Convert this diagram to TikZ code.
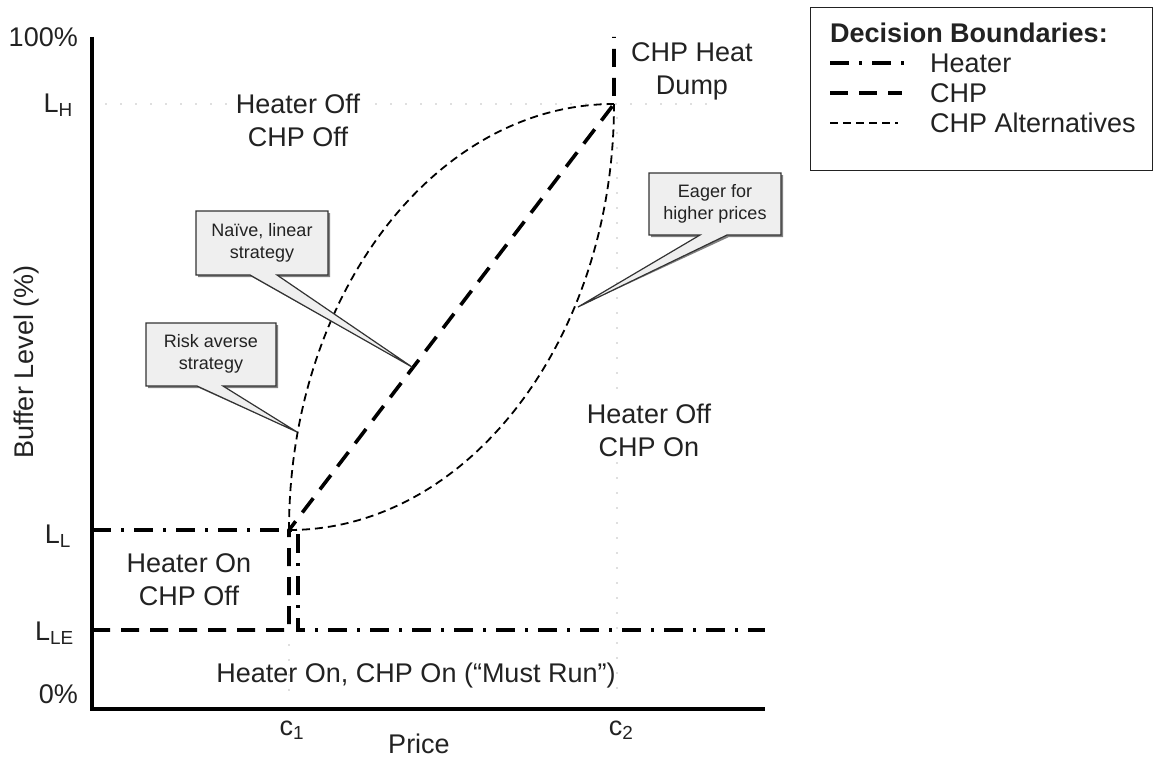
\documentclass[tikz,border=0pt]{standalone}
\usepackage{fontspec}
\setmainfont{Liberation Sans}
\definecolor{ink}{HTML}{222222}
\definecolor{calfill}{HTML}{EFEFEF}
\definecolor{caledge}{HTML}{333333}
\definecolor{guidegray}{HTML}{777777}
\begin{document}
\begin{tikzpicture}[x=1pt,y=-1pt,
  lab/.style={text=ink,font=\fontsize{27}{33}\selectfont,inner sep=0pt,align=center},
  whitelab/.style={lab,fill=white,inner xsep=6pt,inner ysep=2pt},
  leg/.style={text=ink,font=\fontsize{27}{30}\selectfont,inner sep=0pt,anchor=base west},
  caltext/.style={text=ink,font=\fontsize{18}{21.5}\selectfont,inner sep=0pt,align=center},
  axisline/.style={line width=4.5pt},
  heaterline/.style={line width=3.6pt,dash pattern=on 19pt off 10pt on 3pt off 10pt},
  chpline/.style={line width=3.6pt,dash pattern=on 18pt off 11pt},
  altline/.style={line width=1.8pt,dash pattern=on 8pt off 5pt},
  guide/.style={line width=1.4pt,guidegray,line cap=round,dash pattern=on 0pt off 15pt},
  calbox/.style={fill=calfill,draw=caledge,line width=1.2pt,line join=miter},
  calshadow/.style={fill=black!50,draw=none}
]
\useasboundingbox[fill=white] (0,0) rectangle (1155,760);

% key coordinates
\coordinate (ytop) at (92,37);
\coordinate (orig) at (92,709);
\coordinate (xend) at (765,709);
\coordinate (LLleft) at (92,530);
\coordinate (LLEleft) at (92,630);
\coordinate (c1L) at (289,530);
\coordinate (c1LE) at (289,630);
\coordinate (hL) at (298,530);
\coordinate (hLE) at (298,630);
\coordinate (LLEright) at (765,630);
\coordinate (hd) at (614,104);
\coordinate (hdtop) at (614,37);
\coordinate (gH1) at (106,104);
\coordinate (gH2) at (718,104);
\coordinate (gc2a) at (617,118);
\coordinate (gc2b) at (617,700);
\coordinate (gc1a) at (289,645);
\coordinate (gc1b) at (289,700);

% guides
\draw[guide] (gH1) -- (gH2);
\draw[guide] (gc2a) -- (gc2b);
\draw[guide] (gc1a) -- (gc1b);

% CHP alternatives
\draw[altline] (c1L) .. controls (289,295) and (435,104) .. (hd);
\draw[altline] (c1L) .. controls (468,530) and (614,339) .. (hd);

% CHP boundary
\draw[chpline] (LLEleft) -- (c1LE) -- (c1L) -- (hd) -- (hdtop);
% Heater boundary
\draw[heaterline] (LLleft) -- (hL) -- (hLE) -- (LLEright);

% axes
\draw[axisline] (ytop) -- (orig) -- (xend);

% callouts
\coordinate (tipN) at (412,367);
\coordinate (tipR) at (297,432);
\coordinate (tipE) at (578,307);
\begin{scope}[shift={(2,2)}]
\fill[calshadow] (196,211) -- (328,211) -- (328,275) -- (277,275) -- (tipN) -- (250,275) -- (196,275) -- cycle;
\fill[calshadow] (146,323) -- (276,323) -- (276,386) -- (223,386) -- (tipR) -- (197,386) -- (146,386) -- cycle;
\fill[calshadow] (649,173) -- (781,173) -- (781,235) -- (727,235) -- (tipE) -- (700,235) -- (649,235) -- cycle;
\end{scope}
\draw[calbox] (196,211) -- (328,211) -- (328,275) -- (277,275) -- (tipN) -- (250,275) -- (196,275) -- cycle;
\draw[calbox] (146,323) -- (276,323) -- (276,386) -- (223,386) -- (tipR) -- (197,386) -- (146,386) -- cycle;
\draw[calbox] (649,173) -- (781,173) -- (781,235) -- (727,235) -- (tipE) -- (700,235) -- (649,235) -- cycle;
\node[caltext] (naive) at (262,243) {Naïve, linear\\strategy};
\node[caltext] (risk) at (211,354) {Risk averse\\strategy};
\node[caltext] (eager) at (715,204) {Eager for\\higher prices};

% axis tick labels
\node[lab,anchor=base east] (t100) at (78,47) {100\%};
\node[lab,anchor=base east] (tLH) at (73,112) {L\textsubscript{H}};
\node[lab,anchor=base east] (tLL) at (71,543) {L\textsubscript{L}};
\node[lab,anchor=base east] (tLLE) at (74,640) {L\textsubscript{LE}};
\node[lab,anchor=base east] (t0) at (78,703) {0\%};
\node[lab,anchor=base] (tc1) at (292,735) {c\textsubscript{1}};
\node[lab,anchor=base] (tc2) at (621,735) {c\textsubscript{2}};
\node[lab,anchor=base] (price) at (419,753) {Price};
\node[lab,anchor=base,rotate=90] (ylab) at (33,362) {Buffer Level (\%)};

% region labels
\node[whitelab] (offoff) at (298,120) {Heater Off\\CHP Off};
\node[whitelab] (offon) at (649,430) {Heater Off\\CHP On};
\node[lab] (onoff) at (189,580) {Heater On\\CHP Off};
\node[lab] (dump) at (692,71) {CHP Heat\\Dump};
\node[lab,anchor=base] (mustrun) at (416,682) {Heater On, CHP On (“Must Run”)};

% legend
\node[draw=ink,line width=1.4pt,minimum width=342pt,minimum height=163pt,anchor=north west,inner sep=0pt] (legend) at (810,7) {};
\node[leg,font=\fontsize{27}{30}\selectfont\bfseries] (legtitle) at (830,43) {Decision Boundaries:};
\coordinate (lh1) at (830,63);
\coordinate (lh2) at (904,63);
\coordinate (lc1) at (830,93);
\coordinate (lc2) at (902,93);
\coordinate (la1) at (830,123);
\coordinate (la2) at (898,123);
\draw[heaterline] (lh1) -- (lh2);
\draw[chpline] (lc1) -- (lc2);
\draw[altline] (la1) -- (la2);
\node[leg] (legh) at (930,72) {Heater};
\node[leg] (legc) at (930,102) {CHP};
\node[leg] (lega) at (930,132) {CHP Alternatives};
\end{tikzpicture}
\end{document}
